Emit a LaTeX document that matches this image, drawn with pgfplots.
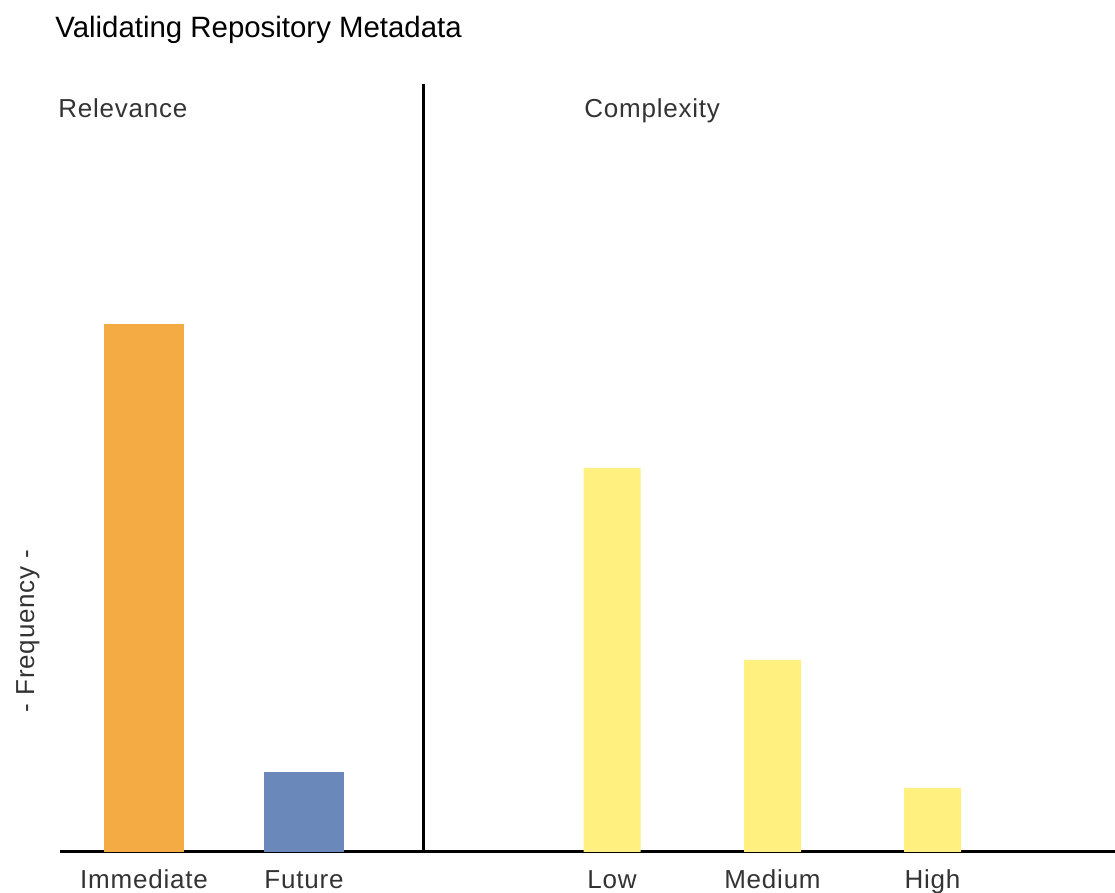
\documentclass[border=0pt]{standalone}
\usepackage{pgfplots}
\pgfplotsset{compat=1.18}
\usepackage{fontspec}
\setmainfont{Liberation Sans}
\newfontfamily\spaced[LetterSpace=3]{Liberation Sans}

\definecolor{orangebar}{HTML}{F4AB43}
\definecolor{bluebar}{HTML}{6A89BA}
\definecolor{yellowbar}{HTML}{FFF080}
\definecolor{labelgray}{HTML}{333333}

\begin{document}
\begin{tikzpicture}
\useasboundingbox (0,0) rectangle (557.5pt,446.5pt);

% title and y label sit outside the axis
\node[anchor=base west, inner sep=0pt, font=\fontsize{14.7}{16}\selectfont] at (27.5pt,427.5pt) {Validating Repository Metadata};
\node[rotate=90, inner sep=0pt, text=labelgray, font=\spaced\fontsize{13}{15}\selectfont] at (14pt,131pt) {- Frequency -};

\begin{axis}[
  at={(30pt,20.5pt)}, anchor=south west,
  scale only axis, width=527.5pt, height=384pt,
  xmin=60, xmax=1115, ymin=0, ymax=48,
  axis x line*=bottom, axis y line=none,
  x axis line style={line width=1.5pt},
  xtick={144,304,612,772.5,932.5},
  xticklabels={Immediate,Future,Low,Medium,High},
  major tick length=0pt,
  xticklabel style={anchor=base, yshift=-18.5pt, text=labelgray, font=\spaced\fontsize{13}{15}\selectfont},
  clip=false,
]
\addplot[ybar, bar shift=0pt, bar width=80, fill=orangebar, draw=none] coordinates {(144,33)};
\addplot[ybar, bar shift=0pt, bar width=80, fill=bluebar, draw=none] coordinates {(304,5)};
\addplot[ybar, bar shift=0pt, bar width=57, fill=yellowbar, draw=none] coordinates {
  (612,24)
  (772.5,12)
  (932.5,4)
};

\draw[line width=1.5pt] (axis cs:423,0) -- (axis cs:423,48);

\node[anchor=base west, inner sep=0pt, text=labelgray, font=\spaced\fontsize{13}{15}\selectfont] at (axis cs:58,45.9) {Relevance};
\node[anchor=base west, inner sep=0pt, text=labelgray, font=\spaced\fontsize{13}{15}\selectfont] at (axis cs:584,45.9) {Complexity};
\end{axis}
\end{tikzpicture}
\end{document}
